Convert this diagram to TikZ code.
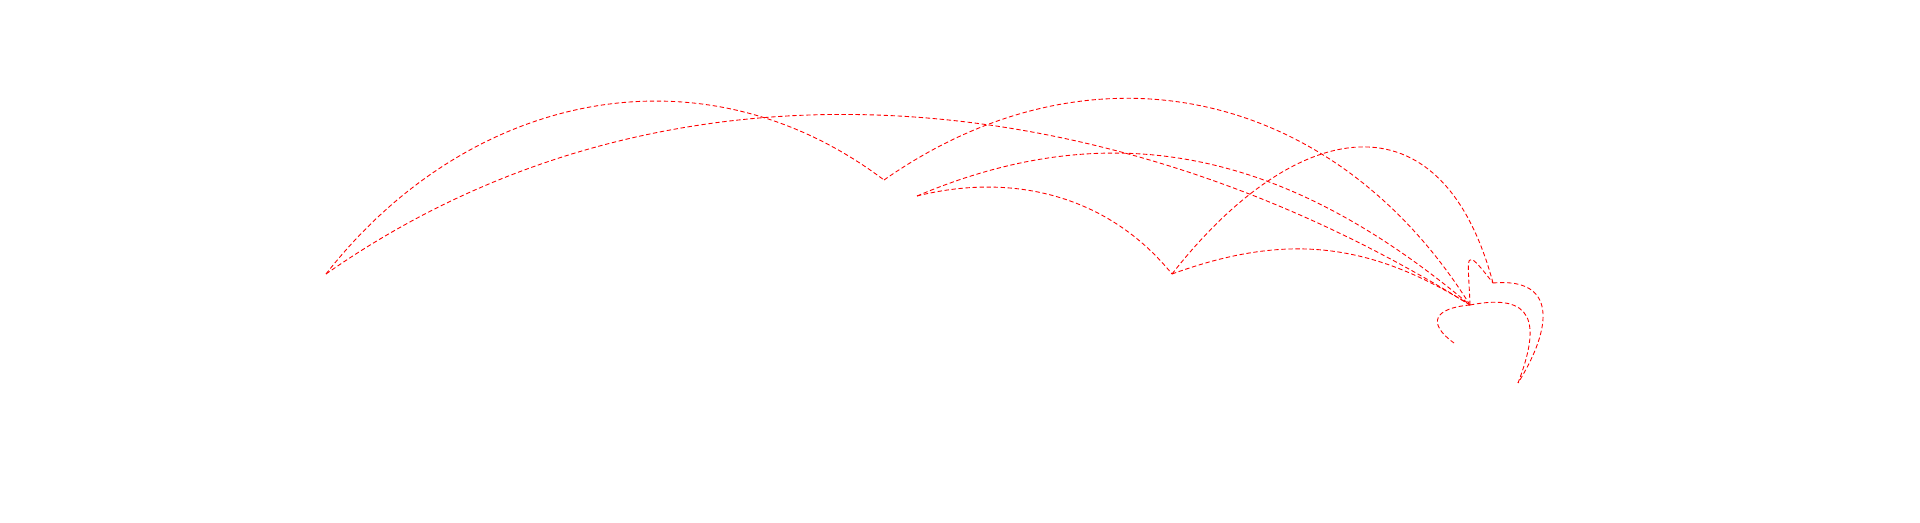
\documentclass[tikz,border=0pt]{standalone}
\begin{document}
\begin{tikzpicture}[x=0.02cm,y=0.02cm,
  edge/.style={draw=red, line width=0.5pt, dash pattern=on 2.5pt off 1.5pt}]
\useasboundingbox[fill=white] (0,0) rectangle (1920,522);
\coordinate (A) at (326,248);
\coordinate (B) at (884,342);
\coordinate (C) at (917,326);
\coordinate (D) at (1172,248);
\coordinate (E) at (1470,217);
\coordinate (F) at (1493,239);
\coordinate (G) at (1454,179);
\coordinate (H) at (1518,139);
\draw[edge] (A) to[out=52,in=143,distance=4.6cm] (B);
\draw[edge] (A) to[out=35,in=148,distance=8.4cm] (E);
\draw[edge] (B) to[out=35,in=122,distance=5.1cm] (E);
\draw[edge] (C) to[out=23,in=140,distance=4.5cm] (E);
\draw[edge] (C) to[out=14,in=129,distance=2cm] (D);
\draw[edge] (D) to[out=52,in=105,distance=4cm] (F);
\draw[edge] (D) to[out=20,in=148,distance=2.4cm] (E);
\draw[edge] (E) to[out=92,in=128,distance=1cm] (F);
\draw[edge] (F) to[out=5,in=58,distance=1.3cm] (H);
\draw[edge] (E) to[out=11,in=69,distance=1.3cm] (H);
\draw[edge] (E) to[out=185,in=144,distance=0.7cm] (G);
\end{tikzpicture}
\end{document}
